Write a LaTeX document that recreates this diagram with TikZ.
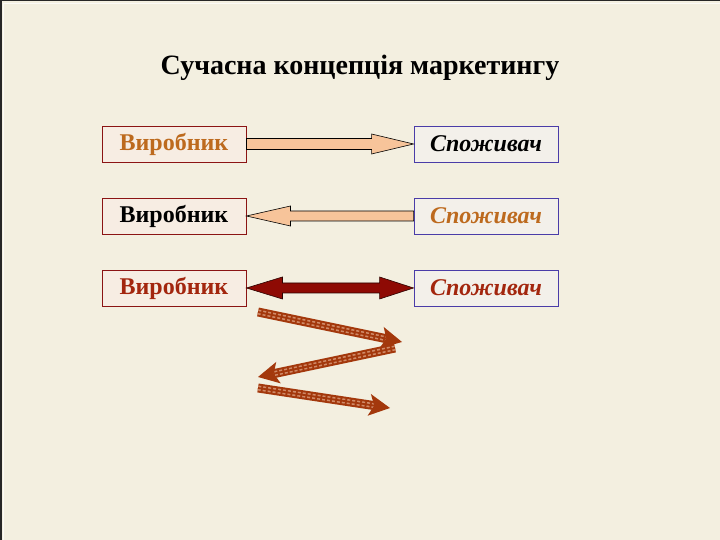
\documentclass[tikz,border=0pt]{standalone}
\usepackage{fontspec}
\setmainfont{Liberation Serif}
\usetikzlibrary{calc}
\definecolor{bg}{HTML}{F3EFE0}
\definecolor{lbfill}{HTML}{F7EDE3}
\definecolor{rbfill}{HTML}{F3F0EA}
\definecolor{lbdraw}{HTML}{8B1414}
\definecolor{rbdraw}{HTML}{4A3CA8}
\definecolor{orangetxt}{HTML}{BD6A1E}
\definecolor{redtxt}{HTML}{A3260E}
\definecolor{peach}{HTML}{F7C49A}
\definecolor{darkred}{HTML}{8E0A04}
\definecolor{zig}{HTML}{A3380C}
\definecolor{zigl}{HTML}{D08A68}
\tikzset{
  lbox/.style={draw=lbdraw, fill=lbfill, line width=0.9pt, minimum width=144pt, minimum height=36pt, inner sep=0pt, font=\fontsize{24}{27}\selectfont\bfseries},
  rbox/.style={draw=rbdraw, fill=rbfill, line width=0.9pt, minimum width=144pt, minimum height=36pt, inner sep=0pt, font=\fontsize{24}{27}\selectfont\bfseries\itshape},
  blockarrow/.style={draw=black, line width=0.6pt, line join=miter},
  zigshaft/.style={zig, line width=9pt},
  zigstripe/.style={zigl, line width=5pt, dash pattern=on 3pt off 2pt},
  zigmid/.style={zig, line width=1.8pt},
}
\newcommand{\zigarrow}[2]{%
  \draw[zigshaft] #1 -- ($#2!16pt!#1$);
  \draw[zigstripe] #1 -- ($#2!16pt!#1$);
  \draw[zigmid] #1 -- ($#2!16pt!#1$);
  \fill[zig] #2 -- ($#2!21pt!#1!11pt!90:#1$) -- ($#2!16pt!#1$) -- ($#2!21pt!#1!11pt!-90:#1$) -- cycle;
}
\begin{document}
\begin{tikzpicture}[x=1pt,y=1pt]
\useasboundingbox (0,0) rectangle (720,540);
\fill[bg] (0,0) rectangle (720,540);
\draw[black!85, line width=1.5pt] (0.75,0) -- (0.75,539.25) -- (720,539.25);
\draw[white!70!bg, line width=1pt] (3.5,0) -- (3.5,536.5) -- (720,536.5);

\node[font=\fontsize{28}{32}\selectfont\bfseries] (title) at (360,472) {Сучасна концепція маркетингу};

\node[lbox, text=orangetxt] (L1) at (174,396) {Виробник};
\node[rbox, text=black] (R1) at (486,396) {Споживач};
\node[lbox, text=black] (L2) at (174,324) {Виробник};
\node[rbox, text=orangetxt] (R2) at (486,324) {Споживач};
\node[lbox, text=redtxt] (L3) at (174,252) {Виробник};
\node[rbox, text=redtxt] (R3) at (486,252) {Споживач};

% row 1: right arrow
\draw[blockarrow, fill=peach]
  ([shift={(0,5.5)}]L1.east) -- ([shift={(-42,5.5)}]R1.west) -- ([shift={(-42,10)}]R1.west)
  -- (R1.west) -- ([shift={(-42,-10)}]R1.west) -- ([shift={(-42,-5.5)}]R1.west)
  -- ([shift={(0,-5.5)}]L1.east) -- cycle;
% row 2: left arrow
\draw[blockarrow, fill=peach]
  ([shift={(0,5)}]R2.west) -- ([shift={(44,5)}]L2.east) -- ([shift={(44,10)}]L2.east)
  -- (L2.east) -- ([shift={(44,-10)}]L2.east) -- ([shift={(44,-5)}]L2.east)
  -- ([shift={(0,-5)}]R2.west) -- cycle;
% row 3: double arrow
\draw[blockarrow, fill=darkred, draw=black!70!darkred]
  (L3.east) -- ([shift={(36,11)}]L3.east) -- ([shift={(36,5)}]L3.east)
  -- ([shift={(-34,5)}]R3.west) -- ([shift={(-34,11)}]R3.west) -- (R3.west)
  -- ([shift={(-34,-11)}]R3.west) -- ([shift={(-34,-5)}]R3.west)
  -- ([shift={(36,-5)}]L3.east) -- ([shift={(36,-11)}]L3.east) -- cycle;

% zigzag arrows
\coordinate (z1s) at (258,228);
\coordinate (z1e) at (402,198);
\coordinate (z2s) at (395,192);
\coordinate (z2e) at (258,163);
\coordinate (z3s) at (258,152);
\coordinate (z3e) at (390,132);
\zigarrow{(z1s)}{(z1e)}
\zigarrow{(z2s)}{(z2e)}
\zigarrow{(z3s)}{(z3e)}
\end{tikzpicture}
\end{document}
